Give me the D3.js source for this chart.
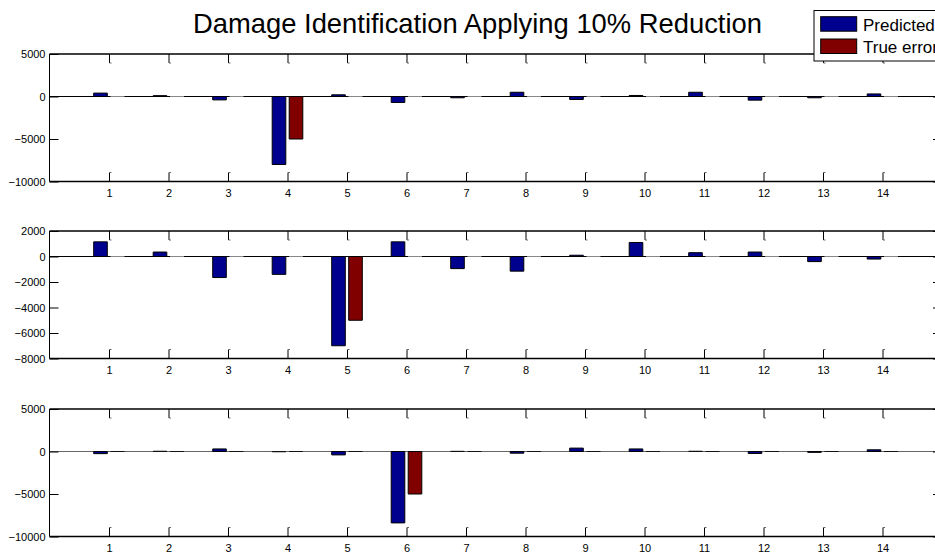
<!DOCTYPE html>
<html>
<head>
<meta charset="utf-8">
<script src="https://cdn.jsdelivr.net/npm/d3@7/dist/d3.min.js"></script>
<style>
  html, body { margin: 0; padding: 0; background: #fff; overflow: hidden; }
  svg { display: block; font-family: "Liberation Sans", Arial, Helvetica, sans-serif; }
</style>
</head>
<body>
<svg id="chart" width="935" height="554"></svg>
<script>
// ---------- data ----------
const categories = [1, 2, 3, 4, 5, 6, 7, 8, 9, 10, 11, 12, 13, 14];
const seriesNames = ["Predicted", "True error"];
const titleText = "Damage Identification Applying 10% Reduction";

const predicted1 = [400, 100, -400, -8000, 200, -700, -150, 500, -350, 120, 500, -430, -150, 300];
const trueErr1   = [0, 0, 0, -5000, 0, 0, 0, 0, 0, 0, 0, 0, 0, 0];

const predicted2 = [1150, 350, -1650, -1400, -7000, 1150, -950, -1150, 100, 1100, 300, 350, -400, -200];
const trueErr2   = [0, 0, 0, 0, -5000, 0, 0, 0, 0, 0, 0, 0, 0, 0];

const predicted3 = [-250, 30, 300, -30, -400, -8400, 20, -200, 400, 300, 30, -230, -100, 200];
const trueErr3   = [0, 0, 0, 0, 0, -5000, 0, 0, 0, 0, 0, 0, 0, 0];

const yTicks1 = [5000, 0, -5000, -10000];
const yTicks2 = [2000, 0, -2000, -4000, -6000, -8000];
const yTicks3 = [5000, 0, -5000, -10000];
const yDomain1 = [-10000, 5000];
const yDomain2 = [-8000, 2000];
const yDomain3 = [-10000, 5000];

const colors = ["#00008f", "#800000"];

// ---------- layout ----------
const svg = d3.select("#chart");
const left = 49.5, right = 942;
const panelTops = [54, 231, 409];
const panelH = 127.5;

const x = d3.scaleLinear().domain([0, 15]).range([left, right]);
const unit = x(1) - x(0);
const offsets = [-1 / 7, 1 / 7];
const barW = 0.2286 * unit;

const panels = [
  { pred: predicted1, tru: trueErr1, ticks: yTicks1, domain: yDomain1, base: "#000", zs: "#888" },
  { pred: predicted2, tru: trueErr2, ticks: yTicks2, domain: yDomain2, base: "#000", zs: "#888" },
  { pred: predicted3, tru: trueErr3, ticks: yTicks3, domain: yDomain3, base: "#666", zs: "#111" }
];

panels.forEach((p, i) => {
  const top = panelTops[i], bottom = top + panelH;
  const y = d3.scaleLinear().domain(p.domain).range([bottom, top]);
  const g = svg.append("g");

  // baseline
  g.append("line")
    .attr("x1", left).attr("x2", right)
    .attr("y1", y(0)).attr("y2", y(0))
    .attr("stroke", p.base).attr("stroke-width", 1);

  // bars (drawn as paths so that zero-height bars still show their outline)
  [p.pred, p.tru].forEach((vals, s) => {
    g.selectAll(null).data(categories).enter().append("path")
      .attr("d", (c, k) => {
        const x0 = x(c + offsets[s]) - barW / 2, x1 = x0 + barW;
        const y0 = y(0), y1 = y(vals[k]);
        return `M${x0},${y0}V${y1}H${x1}V${y0}Z`;
      })
      .attr("fill", colors[s])
      .attr("stroke", (c, k) => (Math.abs(y(vals[k]) - y(0)) < 0.5 ? p.zs : "#000"))
      .attr("stroke-width", 1);
  });

  // axes
  const yl = g.append("g").attr("transform", `translate(${left},0)`)
    .call(d3.axisLeft(y).tickValues(p.ticks).tickSizeInner(-9).tickSizeOuter(0).tickPadding(4).tickFormat(d3.format("d")));
  const yr = g.append("g").attr("transform", `translate(${right},0)`)
    .call(d3.axisRight(y).tickValues(p.ticks).tickSizeInner(-9).tickSizeOuter(0).tickFormat(""));
  const xb = g.append("g").attr("transform", `translate(0,${bottom})`)
    .call(d3.axisBottom(x).tickValues(categories).tickSizeInner(-9).tickSizeOuter(0).tickPadding(8).tickFormat(d3.format("d")));
  const xt = g.append("g").attr("transform", `translate(0,${top})`)
    .call(d3.axisTop(x).tickValues(categories).tickSizeInner(-9).tickSizeOuter(0).tickFormat(""));

  [yl, yr, xb, xt].forEach(a => {
    a.select(".domain").remove();
    a.selectAll("line").attr("stroke", "#000").attr("stroke-width", 1);
    a.selectAll("text").attr("font-size", 11).attr("fill", "#000")
      .attr("font-family", "'Liberation Sans', Arial, Helvetica, sans-serif");
  });
  // small hooks at inner tick ends (rendering artifact in the reference)
  xb.selectAll(".tick").append("line").attr("x1", 0).attr("x2", 2).attr("y1", -9).attr("y2", -9)
    .attr("stroke", "#666").attr("stroke-width", 1);
  xt.selectAll(".tick").append("line").attr("x1", 0).attr("x2", 2).attr("y1", 9).attr("y2", 9)
    .attr("stroke", "#666").attr("stroke-width", 1);

  // box
  g.append("line").attr("x1", left).attr("x2", right).attr("y1", top).attr("y2", top)
    .attr("stroke", "#000").attr("stroke-width", 1.6);
  g.append("line").attr("x1", left).attr("x2", right).attr("y1", bottom).attr("y2", bottom)
    .attr("stroke", "#000").attr("stroke-width", 1.6);
  g.append("line").attr("x1", left).attr("x2", left).attr("y1", top).attr("y2", bottom)
    .attr("stroke", "#000").attr("stroke-width", 1);
  g.append("line").attr("x1", right).attr("x2", right).attr("y1", top).attr("y2", bottom)
    .attr("stroke", "#000").attr("stroke-width", 1);
});

// title
svg.append("text")
  .attr("x", 193).attr("y", 33)
  .attr("font-size", 27.5)
  .attr("fill", "#000")
  .attr("textLength", 569).attr("lengthAdjust", "spacingAndGlyphs")
  .text(titleText);

// legend
const lg = svg.append("g");
lg.append("rect").attr("x", 814).attr("y", 10.5).attr("width", 140).attr("height", 50.5)
  .attr("fill", "#fff").attr("stroke", "#000").attr("stroke-width", 1);
const patchY = [16.7, 39];
seriesNames.forEach((name, s) => {
  lg.append("rect").attr("x", 820.7).attr("y", patchY[s]).attr("width", 36).attr("height", 14.5)
    .attr("fill", colors[s]).attr("stroke", "#000").attr("stroke-width", 1);
  lg.append("text").attr("x", 863).attr("y", patchY[s] + 13.8)
    .attr("font-size", 17).attr("fill", "#000").text(name);
});
</script>
</body>
</html>
